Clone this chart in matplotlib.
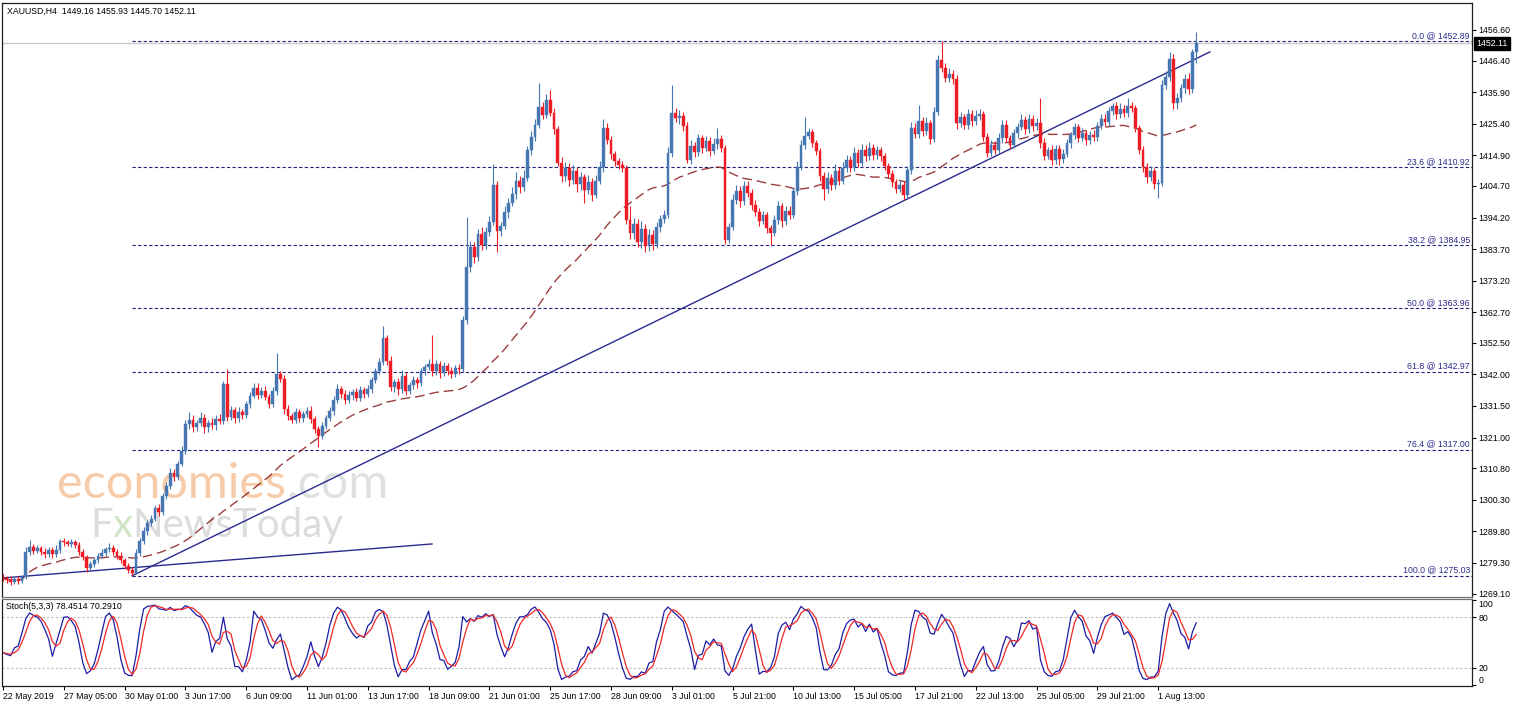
import numpy as np
import pandas as pd
import matplotlib
matplotlib.use("Agg")
import matplotlib.pyplot as plt
from matplotlib.collections import LineCollection

plt.rcParams['font.family'] = ['Liberation Sans', 'DejaVu Sans']

# ---- data ----
symbol_header = "XAUUSD,H4  1449.16 1455.93 1445.70 1452.11"
stoch_header = "Stoch(5,3,3) 78.4514 70.2910"

first_open = 1274.5
closes = [
    1274.2, 1273.6, 1273.0, 1274.1, 1273.4, 1274.6, 1283.0, 1284.6, 1283.4, 1284.2,
    1282.9, 1282.3, 1283.6, 1282.1, 1283.7, 1286.6, 1286.2, 1285.7, 1286.1, 1285.4,
    1282.8, 1281.2, 1277.6, 1278.9, 1280.3, 1281.6, 1282.7, 1283.9, 1284.4, 1283.0,
    1281.7, 1280.1, 1278.4, 1276.8, 1276.0, 1282.5, 1286.5, 1289.8, 1292.6, 1294.0,
    1297.5, 1296.2, 1301.4, 1305.0, 1309.2, 1308.0, 1312.3, 1316.6, 1325.4, 1327.0,
    1324.5, 1325.8, 1327.6, 1324.4, 1326.0, 1325.1, 1327.2, 1326.4, 1338.7, 1327.8,
    1330.1, 1327.5, 1329.4, 1328.6, 1332.0, 1334.8, 1337.4, 1335.2, 1336.6, 1334.6,
    1332.2, 1336.5, 1342.3, 1340.4, 1330.5, 1328.2, 1326.9, 1329.4, 1327.5, 1328.8,
    1330.0, 1327.2, 1323.8, 1321.5, 1325.0, 1327.4, 1329.8, 1333.5, 1337.2, 1335.6,
    1333.4, 1335.0, 1336.3, 1334.2, 1336.8, 1335.5, 1337.0, 1340.2, 1343.3, 1346.0,
    1354.0, 1346.5, 1337.8, 1339.5, 1337.0, 1341.6, 1336.5, 1338.4, 1340.0, 1339.0,
    1343.0, 1344.4, 1345.6, 1343.0, 1345.5, 1342.4, 1344.8, 1343.1, 1342.0, 1344.2,
    1343.8, 1360.0, 1377.6, 1384.5, 1381.0, 1388.6, 1385.2, 1389.4, 1392.6, 1405.0,
    1389.6, 1391.5, 1396.0, 1399.2, 1402.0, 1406.5, 1404.2, 1407.3, 1416.6, 1421.0,
    1425.0, 1431.0, 1428.4, 1433.2, 1429.0, 1423.6, 1412.5, 1408.0, 1410.8, 1406.8,
    1409.6, 1405.2, 1407.6, 1403.4, 1406.0, 1401.8, 1406.4, 1411.0, 1424.0, 1420.0,
    1415.2, 1413.0, 1411.6, 1410.8, 1393.5, 1389.0, 1392.0, 1386.0, 1390.4, 1384.6,
    1388.3, 1385.4, 1391.0, 1393.6, 1395.2, 1415.8, 1429.0, 1427.2, 1428.0, 1424.5,
    1413.4, 1418.0, 1416.0, 1420.5, 1417.2, 1419.5, 1416.4, 1418.6, 1420.2, 1417.4,
    1386.8, 1391.0, 1400.2, 1403.0, 1399.6, 1404.8, 1402.5, 1398.4, 1396.0, 1393.2,
    1395.0, 1390.6, 1389.2, 1393.5, 1398.0, 1393.0, 1396.5, 1395.2, 1403.0, 1411.0,
    1418.5, 1421.4, 1422.6, 1419.0, 1416.2, 1408.0, 1403.6, 1407.2, 1405.0, 1409.6,
    1406.5, 1410.8, 1413.2, 1411.0, 1415.6, 1412.4, 1416.8, 1414.6, 1417.4, 1415.0,
    1416.6, 1414.6, 1411.2, 1408.6, 1406.0, 1403.8, 1405.0, 1401.6, 1410.0, 1424.0,
    1422.0, 1426.2, 1423.0, 1425.6, 1420.2, 1429.4, 1446.6, 1444.0, 1440.6, 1441.8,
    1440.2, 1425.6, 1427.6, 1425.0, 1428.8, 1426.2, 1428.0, 1428.6, 1421.0, 1415.8,
    1418.4, 1416.8, 1420.6, 1425.0, 1420.6, 1418.4, 1422.2, 1424.4, 1426.8, 1423.6,
    1427.0, 1424.6, 1425.8, 1419.0, 1414.8, 1416.6, 1413.2, 1417.0, 1413.8, 1415.4,
    1419.0, 1421.6, 1424.2, 1420.8, 1422.4, 1420.0, 1421.8, 1421.0, 1424.8, 1427.0,
    1426.0, 1429.6, 1431.2, 1428.6, 1430.4, 1429.0, 1431.4, 1430.6, 1424.0, 1416.6,
    1411.0, 1407.6, 1409.6, 1405.4, 1405.6, 1438.3, 1441.0, 1447.0, 1432.2, 1434.0,
    1437.2, 1440.4, 1437.0, 1449.16, 1452.11,
]
# wick length above / below the body of each candle
up_wick = [
    1.0, 0.8, 1.2, 0.9, 1.0, 0.7, 1.6, 2.4, 1.0, 1.2,
    0.8, 1.4, 1.0, 0.9, 1.5, 0.6, 1.0, 0.8, 1.2, 0.9,
    1.0, 1.2, 0.8, 1.1, 0.9, 1.0, 1.3, 0.8, 1.5, 1.0,
    0.9, 1.1, 0.8, 1.0, 1.2, 1.4, 1.0, 1.6, 0.9, 1.3,
    1.1, 1.5, 1.0, 1.2, 1.8, 1.3, 1.0, 1.5, 1.4, 2.6,
    1.5, 1.2, 2.0, 1.4, 1.0, 1.6, 1.3, 1.8, 1.2, 5.2,
    1.5, 1.0, 1.8, 1.2, 1.0, 1.3, 1.6, 1.9, 1.2, 1.4,
    1.0, 1.2, 6.7, 1.0, 1.5, 1.2, 1.0, 1.4, 1.1, 0.9,
    1.3, 1.5, 1.0, 1.2, 1.1, 1.0, 1.4, 1.2, 1.5, 1.0,
    1.2, 1.5, 1.0, 1.3, 1.2, 1.0, 1.4, 1.1, 1.0, 1.5,
    4.0, 1.2, 1.5, 1.0, 1.3, 1.8, 1.2, 1.0, 1.5, 1.2,
    1.3, 1.0, 1.5, 9.4, 1.2, 1.0, 1.4, 1.1, 1.3, 1.0,
    1.2, 1.5, 16.7, 2.0, 1.5, 1.8, 2.5, 1.6, 2.0, 7.0,
    1.5, 1.2, 2.0, 1.6, 2.5, 3.0, 1.5, 2.8, 1.5, 2.0,
    2.0, 8.0, 1.5, 2.0, 3.4, 1.5, 1.2, 1.8, 2.0, 1.5,
    2.0, 1.5, 1.8, 1.2, 2.5, 1.5, 1.8, 2.0, 3.0, 1.5,
    1.4, 1.2, 1.0, 1.5, 1.0, 4.5, 2.0, 1.8, 2.5, 1.5,
    2.0, 1.6, 1.8, 1.5, 1.5, 2.0, 9.3, 1.5, 2.0, 1.2,
    1.5, 2.0, 1.4, 1.5, 1.2, 1.8, 1.5, 2.0, 3.8, 1.5,
    1.0, 1.5, 1.8, 2.0, 1.6, 1.5, 1.4, 1.2, 1.8, 1.3,
    1.5, 1.2, 1.0, 1.5, 1.6, 1.2, 1.4, 1.5, 1.2, 2.0,
    1.5, 6.2, 1.5, 1.2, 1.0, 1.2, 1.5, 2.0, 1.6, 2.5,
    1.5, 2.0, 1.8, 1.5, 2.2, 1.4, 2.0, 1.5, 1.8, 1.2,
    1.5, 1.2, 1.0, 1.3, 1.5, 1.0, 1.6, 1.2, 1.5, 2.0,
    1.8, 5.4, 1.5, 2.0, 1.2, 1.5, 1.8, 6.3, 1.5, 2.0,
    1.4, 1.5, 1.8, 1.2, 1.5, 1.2, 2.0, 1.6, 1.2, 1.4,
    1.5, 1.2, 1.6, 1.8, 1.5, 1.2, 1.6, 1.4, 1.8, 1.2,
    1.5, 1.2, 1.4, 8.2, 1.5, 1.2, 1.6, 1.4, 1.2, 1.5,
    1.4, 1.2, 1.5, 1.2, 1.6, 1.0, 1.3, 1.5, 1.2, 1.5,
    1.6, 1.4, 1.2, 1.5, 1.8, 1.2, 2.6, 1.4, 1.2, 1.0,
    1.5, 1.2, 1.8, 1.0, 1.4, 1.5, 1.8, 2.3, 1.5, 1.6,
    1.4, 1.5, 1.8, 1.2, 3.82,
]
dn_wick = [
    0.8, 1.0, 1.2, 0.7, 1.0, 0.9, 0.6, 1.0, 1.2, 0.8,
    1.0, 1.3, 0.9, 1.2, 0.8, 1.0, 1.4, 0.8, 1.0, 1.2,
    1.0, 0.9, 1.3, 0.8, 1.0, 1.1, 0.8, 1.0, 0.9, 1.2,
    1.0, 0.8, 1.1, 0.9, 0.97, 0.5, 1.0, 0.8, 1.2, 1.0,
    0.8, 1.2, 1.0, 0.9, 1.1, 1.4, 1.0, 0.8, 1.0, 1.5,
    1.8, 1.2, 1.0, 2.0, 1.4, 1.2, 1.5, 1.0, 0.8, 1.2,
    1.0, 1.5, 1.2, 1.4, 1.0, 1.2, 0.8, 1.5, 1.0, 1.2,
    1.5, 1.0, 1.2, 1.0, 1.5, 1.3, 1.2, 1.0, 1.4, 1.2,
    1.0, 1.4, 1.2, 3.5, 1.0, 1.2, 1.0, 1.2, 1.0, 1.5,
    1.2, 1.0, 1.4, 1.2, 1.0, 1.3, 1.0, 1.2, 1.0, 1.1,
    1.0, 1.5, 1.2, 1.5, 2.0, 1.2, 1.5, 1.0, 1.2, 1.5,
    1.0, 1.2, 1.0, 1.5, 1.2, 1.6, 1.0, 1.4, 1.2, 1.0,
    1.5, 1.0, 1.2, 1.5, 2.0, 1.2, 1.8, 1.5, 1.2, 1.0,
    7.0, 1.5, 1.2, 1.8, 1.2, 1.5, 2.0, 1.2, 1.0, 1.5,
    1.2, 1.0, 1.5, 1.2, 1.0, 1.5, 1.2, 2.0, 1.5, 2.2,
    1.5, 2.5, 1.8, 4.4, 1.5, 2.0, 1.2, 1.0, 1.5, 1.2,
    1.5, 1.8, 1.2, 1.5, 1.5, 2.0, 1.8, 1.5, 2.0, 2.0,
    1.5, 2.0, 1.2, 1.5, 1.2, 1.0, 1.5, 1.2, 1.8, 1.5,
    1.2, 1.5, 1.8, 1.2, 1.5, 1.0, 1.6, 1.2, 1.5, 1.4,
    1.5, 1.2, 1.0, 1.5, 1.8, 1.2, 1.5, 1.6, 1.2, 1.8,
    1.2, 1.5, 4.0, 1.2, 1.5, 1.8, 1.2, 1.5, 1.0, 1.2,
    1.0, 1.5, 1.2, 1.4, 1.2, 1.5, 3.6, 1.2, 1.5, 1.2,
    1.5, 1.2, 1.4, 1.6, 1.2, 1.5, 1.2, 1.6, 1.2, 1.5,
    1.2, 1.5, 1.2, 1.4, 1.5, 1.6, 1.2, 1.6, 1.0, 1.2,
    1.5, 1.2, 1.6, 1.2, 1.5, 1.0, 1.2, 1.5, 1.4, 1.2,
    1.5, 1.8, 1.2, 1.5, 1.2, 1.6, 1.2, 1.5, 1.4, 1.5,
    1.2, 1.6, 1.2, 1.5, 1.2, 1.4, 1.2, 1.5, 1.2, 1.6,
    1.2, 1.5, 1.2, 1.5, 1.6, 1.2, 1.5, 1.2, 2.2, 1.4,
    1.2, 1.5, 1.2, 1.6, 1.2, 1.5, 1.2, 1.4, 1.2, 1.0,
    1.5, 1.2, 1.4, 1.6, 1.2, 1.5, 1.2, 1.4, 1.5, 1.2,
    1.5, 1.8, 1.2, 1.6, 4.8, 1.0, 1.2, 1.5, 2.0, 1.8,
    1.2, 1.5, 1.6, 1.4, 3.46,
]

bid_price = 1452.11
fib_high = 1452.89
fib_low = 1275.03
fib_start_bar = 34
fib_levels = [0.0, 23.6, 38.2, 50.0, 61.8, 76.4, 100.0]

trend_main_bars = [34, 317.6]
trend_main_prices = [1275.03, 1449.3]
trend_low_bars = [0, 112.9]
trend_low_prices = [1274.3, 1285.6]

price_ticks = [1456.60, 1446.40, 1435.90, 1425.40, 1414.90, 1404.70, 1394.20,
               1383.70, 1373.20, 1362.70, 1352.50, 1342.00, 1331.50, 1321.00,
               1310.80, 1300.30, 1289.80, 1279.30, 1269.10]
stoch_ticks = [100, 80, 20, 0]
time_labels = ["22 May 2019", "27 May 05:00", "30 May 01:00", "3 Jun 17:00",
               "6 Jun 09:00", "11 Jun 01:00", "13 Jun 17:00", "18 Jun 09:00",
               "21 Jun 01:00", "25 Jun 17:00", "28 Jun 09:00", "3 Jul 01:00",
               "5 Jul 21:00", "10 Jul 13:00", "15 Jul 05:00", "17 Jul 21:00",
               "22 Jul 13:00", "25 Jul 05:00", "29 Jul 21:00", "1 Aug 13:00"]
bars_per_label = 16

# ---- derived series ----
n = min(len(closes), len(up_wick), len(dn_wick))
c = np.array(closes[:n])
o = np.r_[first_open, c[:-1]]
hi = np.maximum(o, c) + np.array(up_wick[:n])
lo = np.minimum(o, c) - np.array(dn_wick[:n])
x = np.arange(n)

s_c, s_h, s_l = pd.Series(c), pd.Series(hi), pd.Series(lo)
ma = s_c.rolling(50, min_periods=1).mean()
ll = s_l.rolling(5, min_periods=1).min()
hh = s_h.rolling(5, min_periods=1).max()
k_line = 100 * (s_c - ll).rolling(3, min_periods=1).sum() / (hh - ll).rolling(3, min_periods=1).sum()
d_line = k_line.rolling(3, min_periods=1).mean()

# ---- figure ----
W, H = 1515, 706
fig = plt.figure(figsize=(W / 100, H / 100), dpi=100)
ax = fig.add_axes([2 / W, 1 - 597 / H, 1470 / W, 594 / H])
axs = fig.add_axes([2 / W, 1 - 686 / H, 1470 / W, 87 / H])

xmin = -1 / 3.8
xmax = xmin + 1470 / 3.8
fs = 6.3
bull, bear = '#4677b3', '#ee1c24'

# watermark (under the candles)
wm_y = 1 - 498 / H
t1 = ax.text(57 / W, wm_y, "economies", transform=fig.transFigure, fontsize=35,
             family='Lato', color='#f8cba8', va='baseline', zorder=0.2)
rend = fig.canvas.get_renderer()
bb = t1.get_window_extent(rend)
ax.text(bb.x1 / W, wm_y, ".com", transform=fig.transFigure, fontsize=35,
        family='Lato', color='#e0e0e0', va='baseline', zorder=0.2)
wm_y2 = 1 - 537 / H
xpos = 90
for part, col in [("F", '#dcdcdc'), ("x", '#d0e5c8'), ("NewsToday", '#dcdcdc')]:
    t = ax.text(xpos / W, wm_y2, part, transform=fig.transFigure, fontsize=29,
                family='Lato', color=col, va='baseline', zorder=0.2)
    xpos = t.get_window_extent(rend).x1

# bid line
ax.axhline(bid_price, color='#c8c8c8', lw=1.0, zorder=0.5)

# fibonacci levels
for lvl in fib_levels:
    p = fib_high - lvl / 100 * (fib_high - fib_low)
    ax.hlines(p, fib_start_bar, xmax, colors='#23237e', lw=0.8,
              linestyles=(0, (3, 2)), zorder=1)
    ax.annotate(f"{lvl:.1f} @ {p:.2f}", xy=(1.0, p), xycoords=ax.get_yaxis_transform(),
                xytext=(-1.5, 0.8), textcoords='offset points', ha='right', va='bottom',
                fontsize=fs, color='#2c2c8c', zorder=3)

# moving average
ax.plot(x, ma, color='#8b1c1c', lw=1.0, dashes=(7, 3.5), alpha=0.85, zorder=1.5)

# trend lines
ax.plot(trend_main_bars, trend_main_prices, color='#2a2a90', lw=1.0, zorder=1.6)
ax.plot(trend_low_bars, trend_low_prices, color='#2a2a90', lw=1.0, zorder=1.6)

# candles
up = c >= o
cols = np.where(up, bull, bear)
segs = [[(xi, l_), (xi, h_)] for xi, l_, h_ in zip(x, lo, hi)]
ax.add_collection(LineCollection(segs, colors=cols, linewidths=0.8, zorder=2))
body = np.where(np.abs(c - o) < 0.25, 0.25, c - o)
ax.bar(x, body, bottom=o, width=0.72, color=cols, edgecolor=cols, linewidth=0.3, zorder=2.1)

ax.set_xlim(xmin, xmax)
ax.set_ylim(1267.95, 1465.58)
ax.set_xticks([])
ax.yaxis.tick_right()
ax.set_yticks(price_ticks)
ax.set_yticklabels([f"{v:.2f}" for v in price_ticks])
ax.tick_params(axis='y', direction='out', length=3, width=0.8, labelsize=fs, pad=1.5)

ax.annotate(f"{bid_price:.2f}", xy=(1.0, bid_price), xycoords=ax.get_yaxis_transform(),
            xytext=(3.2, 0), textcoords='offset points', ha='left', va='center',
            fontsize=fs, color='white', annotation_clip=False, zorder=5,
            bbox=dict(boxstyle='square,pad=0.25', fc='black', ec='black'))

ax.annotate(symbol_header, xy=(0, 1), xycoords='axes fraction', xytext=(3.5, -3),
            textcoords='offset points', ha='left', va='top', fontsize=fs, color='black')

for sp in ax.spines.values():
    sp.set_linewidth(0.9)
    sp.set_color('#202020')
ax.spines['bottom'].set_color('#707070')

# ---- stochastic panel ----
axs.axhline(80, color='#bdbdbd', lw=0.8, linestyle=(0, (2, 2)))
axs.axhline(20, color='#bdbdbd', lw=0.8, linestyle=(0, (2, 2)))
axs.plot(x, k_line, color='#1c1ca8', lw=0.9)
axs.plot(x, d_line, color='#f02828', lw=0.9)
axs.set_xlim(xmin, xmax)
axs.set_ylim(-1.2, 101.2)
axs.yaxis.tick_right()
axs.set_yticks(stoch_ticks)
axs.set_yticklabels([str(v) for v in stoch_ticks])
axs.tick_params(axis='y', direction='out', length=3, width=0.8, labelsize=fs, pad=1.5)
for lab, v in zip(axs.get_yticklabels(), stoch_ticks):
    if v == 100:
        lab.set_verticalalignment('top')
    elif v == 0:
        lab.set_verticalalignment('bottom')

tick_pos = np.arange(len(time_labels)) * bars_per_label
axs.set_xticks(tick_pos)
axs.set_xticklabels(time_labels)
axs.tick_params(axis='x', direction='out', length=3, width=0.8, labelsize=fs, pad=1.5)
for lab in axs.get_xticklabels():
    lab.set_horizontalalignment('left')

axs.annotate(stoch_header, xy=(0, 1), xycoords='axes fraction', xytext=(3, -2.5),
             textcoords='offset points', ha='left', va='top', fontsize=fs, color='black')
for sp in axs.spines.values():
    sp.set_linewidth(0.9)
    sp.set_color('#202020')
axs.spines['top'].set_color('#707070')

fig.savefig("out.png", dpi=100, facecolor='white')
